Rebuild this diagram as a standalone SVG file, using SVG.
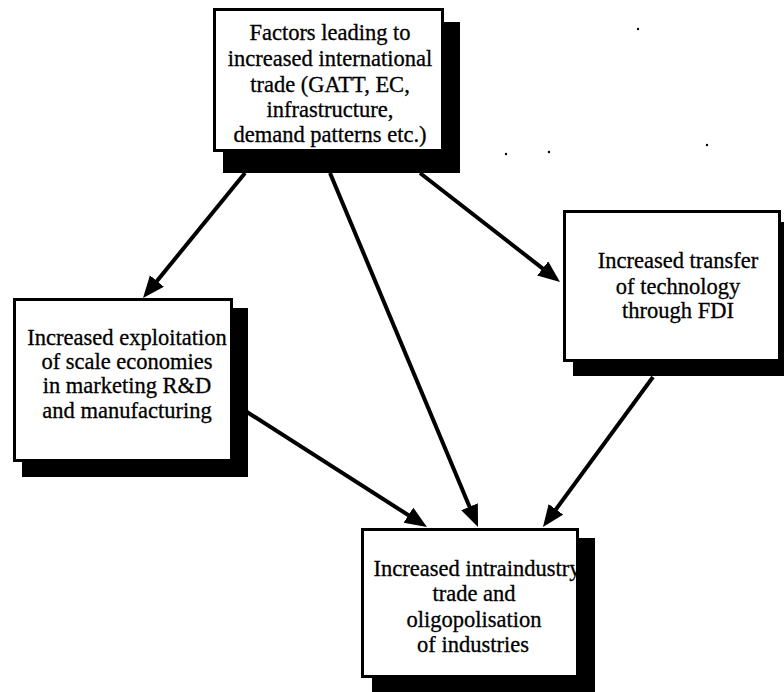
<svg xmlns="http://www.w3.org/2000/svg" width="784" height="692" viewBox="0 0 784 692">
  <style>
    .shadow { fill: #000; }
    .box { fill: #fff; stroke: #000; stroke-width: 3; }
    .link { stroke: #000; stroke-width: 4; fill: none; }
    .speck { fill: #000; }
  </style>
  <defs>
    <marker id="head" markerUnits="userSpaceOnUse" markerWidth="24" markerHeight="20" viewBox="0 0 24 20" refX="16" refY="9" orient="auto">
      <path d="M0,0 L22,9 L0,18 Z" fill="#000"/>
    </marker>
  </defs>
  <rect width="784" height="692" fill="#fff"/>

  <!-- connectors -->
  <g id="connectors" class="link">
    <line x1="245" y1="173" x2="146.8" y2="293.4" marker-end="url(#head)"/>
    <line x1="330" y1="173" x2="475.7" y2="521.5" marker-end="url(#head)"/>
    <line x1="420" y1="173" x2="555.3" y2="278.3" marker-end="url(#head)"/>
    <line x1="247" y1="412" x2="421.9" y2="523.8" marker-end="url(#head)"/>
    <line x1="653" y1="377" x2="546.5" y2="522.2" marker-end="url(#head)"/>
  </g>

  <!-- source: trade factors -->
  <g id="factors">
    <rect class="shadow" x="223" y="22" width="237" height="151"/>
    <rect class="box" x="214.5" y="9.5" width="228" height="141"/>
    <text x="330" y="40" font-family="Liberation Serif, serif" font-size="22.5" text-anchor="middle" stroke="#000" stroke-width="0.3">Factors leading to</text>
    <text x="330" y="66" font-family="Liberation Serif, serif" font-size="22.5" text-anchor="middle" stroke="#000" stroke-width="0.3">increased international</text>
    <text x="330" y="92" font-family="Liberation Serif, serif" font-size="22.5" text-anchor="middle" stroke="#000" stroke-width="0.3">trade (GATT, EC,</text>
    <text x="330" y="117" font-family="Liberation Serif, serif" font-size="22.5" text-anchor="middle" stroke="#000" stroke-width="0.3">infrastructure,</text>
    <text x="330" y="142" font-family="Liberation Serif, serif" font-size="22.5" text-anchor="middle" stroke="#000" stroke-width="0.3">demand patterns etc.)</text>
  </g>

  <g id="scale">
    <rect class="shadow" x="22" y="308" width="226" height="169"/>
    <rect class="box" x="14.5" y="299.5" width="217" height="161"/>
    <text x="127" y="345" font-family="Liberation Serif, serif" font-size="22.5" text-anchor="middle" stroke="#000" stroke-width="0.3">Increased exploitation</text>
    <text x="127" y="369" font-family="Liberation Serif, serif" font-size="22.5" text-anchor="middle" stroke="#000" stroke-width="0.3">of scale economies</text>
    <text x="127" y="393" font-family="Liberation Serif, serif" font-size="22.5" text-anchor="middle" stroke="#000" stroke-width="0.3">in marketing R&amp;D</text>
    <text x="127" y="418" font-family="Liberation Serif, serif" font-size="22.5" text-anchor="middle" stroke="#000" stroke-width="0.3">and manufacturing</text>
  </g>

  <g id="transfer">
    <rect class="shadow" x="573" y="222" width="220" height="154"/>
    <rect class="box" x="564.5" y="211.5" width="215" height="149"/>
    <text x="678" y="268" font-family="Liberation Serif, serif" font-size="22.5" text-anchor="middle" stroke="#000" stroke-width="0.3">Increased transfer</text>
    <text x="678" y="294" font-family="Liberation Serif, serif" font-size="22.5" text-anchor="middle" stroke="#000" stroke-width="0.3">of technology</text>
    <text x="678" y="318" font-family="Liberation Serif, serif" font-size="22.5" text-anchor="middle" stroke="#000" stroke-width="0.3">through FDI</text>
  </g>

  <g id="intraindustry">
    <rect class="shadow" x="372" y="538" width="223" height="160"/>
    <rect class="box" x="362.5" y="529.5" width="215" height="147"/>
    <text x="477" y="576" font-family="Liberation Serif, serif" font-size="22.5" text-anchor="middle" stroke="#000" stroke-width="0.3">Increased intraindustry</text>
    <text x="474" y="601" font-family="Liberation Serif, serif" font-size="22.5" text-anchor="middle" stroke="#000" stroke-width="0.3">trade and</text>
    <text x="474" y="627" font-family="Liberation Serif, serif" font-size="22.5" text-anchor="middle" stroke="#000" stroke-width="0.3">oligopolisation</text>
    <text x="473" y="652" font-family="Liberation Serif, serif" font-size="22.5" text-anchor="middle" stroke="#000" stroke-width="0.3">of industries</text>
  </g>

  <!-- stray specks -->
  <circle class="speck" cx="638" cy="29" r="1.2"/>
  <circle class="speck" cx="506" cy="154" r="1.2"/>
  <circle class="speck" cx="549" cy="152" r="1.2"/>
  <circle class="speck" cx="707" cy="145" r="1.2"/>
</svg>
